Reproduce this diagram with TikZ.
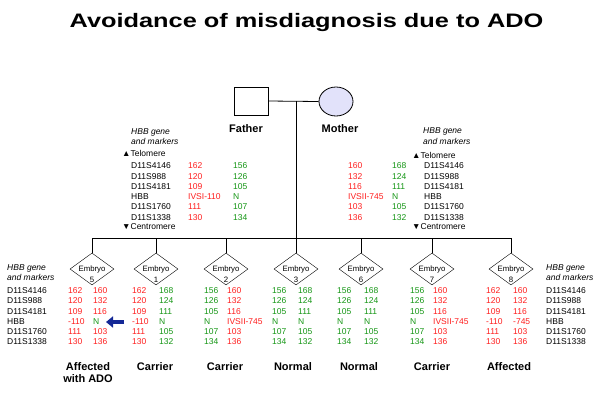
\documentclass[tikz,border=0pt]{standalone}
\usepackage{fontspec}
\setmainfont{Liberation Sans}
\usetikzlibrary{shapes.geometric,arrows.meta}
\definecolor{cr}{RGB}{255,30,30}
\definecolor{cg}{RGB}{20,150,20}
\definecolor{cb}{RGB}{20,40,150}
\definecolor{lav}{RGB}{226,226,250}
\tikzset{
  dat/.style={font=\fontsize{8.5}{10}\selectfont, anchor=base west, inner sep=0pt},
  itl/.style={font=\fontsize{8.5}{10}\itshape\selectfont, anchor=base west, inner sep=0pt},
  lbl/.style={font=\fontsize{11}{13}\bfseries\selectfont, anchor=base, inner sep=0pt},
  embryo/.style={diamond, draw, minimum width=44pt, minimum height=32pt, inner sep=0pt},
  etext/.style={font=\fontsize{7.8}{8}\selectfont, anchor=base, inner sep=0pt},
  conn/.style={draw, line width=0.8pt}
}
\newcommand\datcol[3]{%
  \foreach \v/\cc [count=\i from 0] in {#3} {\node[dat,text=\cc] (d#1x\i) at (#1,#2+10.25*\i) {\v};}}
\begin{document}
\begin{tikzpicture}[x=1pt,y=-1pt]
\useasboundingbox[fill=white] (0,0) rectangle (600,392);
% title
\node[font=\fontsize{19.5}{22}\bfseries\selectfont, anchor=base, inner sep=0pt] (title) at (306.5,27)
  {\scalebox{1.3}[1]{Avoidance of misdiagnosis due to ADO}};
% parents
\node[draw, line width=0.8pt, minimum width=34pt, minimum height=28pt, inner sep=0pt] (father) at (251,101) {};
\node[ellipse, draw, line width=0.8pt, fill=lav, minimum width=34pt, minimum height=29pt, inner sep=0pt] (mother) at (336,101.5) {};
\coordinate (mid) at (296,101);
\coordinate (bar) at (296,238);
\draw[conn] (father.east) -- (mother.west);
\draw[conn] (mid) -- (bar);
\node[lbl] (fl) at (246,132) {Father};
\node[lbl] (ml) at (340,132) {Mother};
% father side labels
\node[itl] (fh1) at (131,134) {HBB gene};
\node[itl] (fh2) at (131,144.5) {and markers};
\node[dat] (ftel) at (122,156) {▲Telomere};
\node[dat] (fcen) at (122,229) {▼Centromere};
\datcol{131}{168.8}{D11S4146/black,D11S988/black,D11S4181/black,HBB/black,D11S1760/black,D11S1338/black}
\datcol{188}{168.8}{162/cr,120/cr,109/cr,IVSI-110/cr,111/cr,130/cr}
\datcol{233}{168.8}{156/cg,126/cg,105/cg,N/cg,107/cg,134/cg}
% mother side
\node[itl] (mh1) at (423,133.5) {HBB gene};
\node[itl] (mh2) at (423,144) {and markers};
\node[dat] (mtel) at (412,158) {▲Telomere};
\node[dat] (mcen) at (412,229.5) {▼Centromere};
\datcol{348}{168.8}{160/cr,132/cr,116/cr,IVSII-745/cr,103/cr,136/cr}
\datcol{392}{168.8}{168/cg,124/cg,111/cg,N/cg,105/cg,132/cg}
\datcol{424}{168.8}{D11S4146/black,D11S988/black,D11S4181/black,HBB/black,D11S1760/black,D11S1338/black}
% embryos
\foreach \n/\x in {5/92,1/156,2/226,3/296,6/361,7/432,8/511}{
  \node[embryo] (e\n) at (\x,269) {};
  \node[etext] (et\n) at (\x,271) {Embryo};
  \node[etext] (en\n) at (\x,282) {\n};
}
\draw[conn] (e5.north) -- (e5.north |- bar) -- (e8.north |- bar) -- (e8.north);
\foreach \n in {1,2,3,6,7}{\draw[conn] (e\n.north) -- (e\n.north |- bar);}
% left and right label columns
\node[itl] (lh1) at (7,270.5) {HBB gene};
\node[itl] (lh2) at (7,280.5) {and markers};
\datcol{7}{293.7}{D11S4146/black,D11S988/black,D11S4181/black,HBB/black,D11S1760/black,D11S1338/black}
\node[itl] (rh1) at (546,270.5) {HBB gene};
\node[itl] (rh2) at (546,280.5) {and markers};
\datcol{546}{293.7}{D11S4146/black,D11S988/black,D11S4181/black,HBB/black,D11S1760/black,D11S1338/black}
% embryo data
\datcol{68}{293.7}{162/cr,120/cr,109/cr,-110/cr,111/cr,130/cr}
\datcol{93}{293.7}{160/cr,132/cr,116/cr,N/cg,103/cr,136/cr}
\datcol{132}{293.7}{162/cr,120/cr,109/cr,-110/cr,111/cr,130/cr}
\datcol{159}{293.7}{168/cg,124/cg,111/cg,N/cg,105/cg,132/cg}
\datcol{204}{293.7}{156/cg,126/cg,105/cg,N/cg,107/cg,134/cg}
\datcol{227}{293.7}{160/cr,132/cr,116/cr,IVSII-745/cr,103/cr,136/cr}
\datcol{272}{293.7}{156/cg,126/cg,105/cg,N/cg,107/cg,134/cg}
\datcol{298}{293.7}{168/cg,124/cg,111/cg,N/cg,105/cg,132/cg}
\datcol{337}{293.7}{156/cg,126/cg,105/cg,N/cg,107/cg,134/cg}
\datcol{364}{293.7}{168/cg,124/cg,111/cg,N/cg,105/cg,132/cg}
\datcol{410}{293.7}{156/cg,126/cg,105/cg,N/cg,107/cg,134/cg}
\datcol{433}{293.7}{160/cr,132/cr,116/cr,IVSII-745/cr,103/cr,136/cr}
\datcol{486}{293.7}{162/cr,120/cr,109/cr,-110/cr,111/cr,130/cr}
\datcol{513}{293.7}{160/cr,132/cr,116/cr,-745/cr,103/cr,136/cr}
% arrow
\coordinate (atail) at (124,322);
\coordinate (ahead) at (106,322);
\draw[cb, line width=4.5pt, -{Triangle[length=7pt,width=11pt]}] (atail) -- (ahead);
% outcomes
\node[lbl] (o5a) at (88,370) {Affected};
\node[lbl] (o5b) at (88,382.5) {with ADO};
\node[lbl] (o1) at (155,370) {Carrier};
\node[lbl] (o2) at (225,370) {Carrier};
\node[lbl] (o3) at (293,370) {Normal};
\node[lbl] (o6) at (359,370) {Normal};
\node[lbl] (o7) at (432,370) {Carrier};
\node[lbl] (o8) at (509,370) {Affected};
\end{tikzpicture}
\end{document}
